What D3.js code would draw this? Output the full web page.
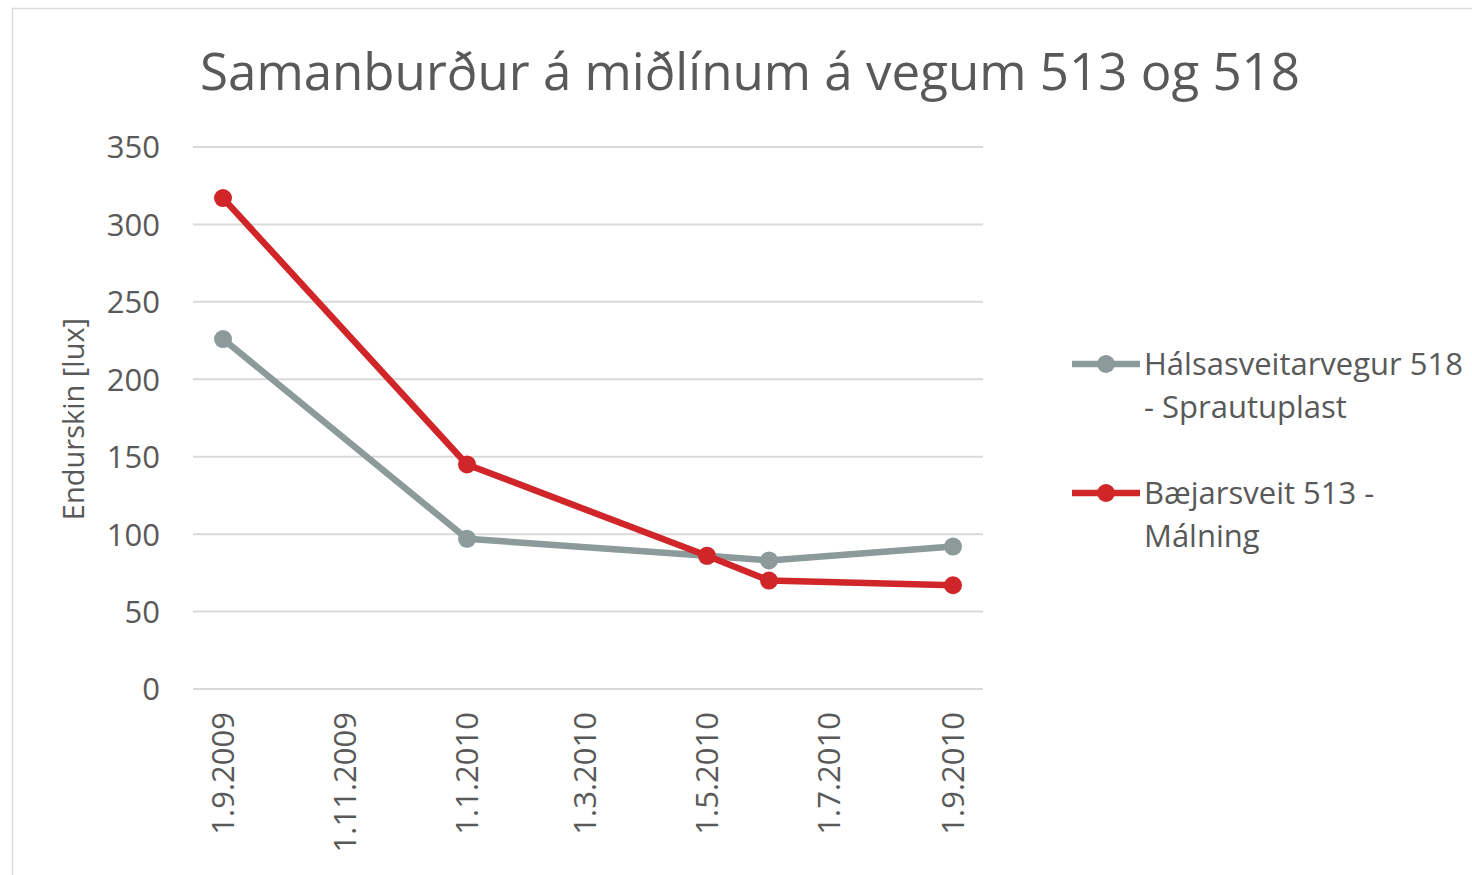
<!DOCTYPE html>
<html><head><meta charset="utf-8">
<script src="https://cdn.jsdelivr.net/npm/d3@7/dist/d3.min.js"></script>
<style>body{margin:0;background:#fff;}svg{display:block;font-family:"Open Sans",sans-serif;}</style>
</head><body>
<svg id="c" width="1472" height="875"></svg>
<script>
const title = "Samanburður á miðlínum á vegum 513 og 518";
const yTitle = "Endurskin [lux]";
const dates = ["2009-09-01","2010-01-01","2010-05-01","2010-06-01","2010-09-01"];
const seriesNames = [["Hálsasveitarvegur 518","- Sprautuplast"],["Bæjarsveit 513 -","Málning"]];
const grayValues = [226, 97, 86, 83, 92];
const redValues = [317, 145, 86, 70, 67];
const seriesColors = ["#8c9a9a", "#d0262a"];
const yTicks = [0,50,100,150,200,250,300,350];
const xTickDates = ["2009-09-01","2009-11-01","2010-01-01","2010-03-01","2010-05-01","2010-07-01","2010-09-01"];

const parse = d3.timeParse("%Y-%m-%d");
const fmt = d => `${d.getDate()}.${d.getMonth()+1}.${d.getFullYear()}`;
const svg = d3.select("#c");
const textColor = "#595959";

svg.append("rect").attr("x",12.5).attr("y",8.5).attr("width",1480).attr("height",880)
  .attr("fill","#fff").attr("stroke","#d9d9d9").attr("stroke-width",1.5);

const x = d3.scaleTime().domain([parse("2009-08-17"), parse("2010-09-16")]).range([193, 983]);
const y = d3.scaleLinear().domain([0,350]).range([689,147]);

// gridlines
svg.append("g").selectAll("line").data(yTicks).join("line")
  .attr("x1",193).attr("x2",983).attr("y1",d=>y(d)).attr("y2",d=>y(d))
  .attr("stroke","#d9d9d9").attr("stroke-width",2);

// y axis labels
const ya = svg.append("g").attr("transform","translate(160,0)")
  .call(d3.axisLeft(y).tickValues(yTicks).tickSize(0).tickPadding(0));
ya.select(".domain").remove();
ya.selectAll("text").attr("fill",textColor).style("font-size","31px").attr("dy","0.35em")
  .style("font-family","'Open Sans',sans-serif");

// x axis labels
const xa = svg.append("g").attr("transform","translate(0,712)")
  .call(d3.axisBottom(x).tickValues(xTickDates.map(parse)).tickFormat(fmt).tickSize(0).tickPadding(0));
xa.select(".domain").remove();
xa.selectAll("text").attr("fill",textColor).style("font-size","31px")
  .style("font-family","'Open Sans',sans-serif")
  .attr("text-anchor","end").attr("transform","rotate(-90)").attr("x",0).attr("y",0).attr("dy","0.35em");

// title
svg.append("text").attr("x",750).attr("y",90).attr("text-anchor","middle")
  .attr("fill",textColor).style("font-size","52px")
  .attr("textLength",1100).attr("lengthAdjust","spacingAndGlyphs").text(title);

// y title
svg.append("text").attr("transform","translate(84,419) rotate(-90)").attr("text-anchor","middle")
  .attr("fill",textColor).style("font-size","29px").text(yTitle);

const series = [grayValues, redValues];
const line = d3.line().x(d=>x(d.date)).y(d=>y(d.v));
series.forEach((vals,i)=>{
  const data = dates.map((d,j)=>({date:parse(d), v:vals[j]}));
  svg.append("path").datum(data).attr("d",line).attr("fill","none")
    .attr("stroke",seriesColors[i]).attr("stroke-width",6.5).attr("stroke-linejoin","round");
  svg.append("g").selectAll("circle").data(data).join("circle")
    .attr("cx",d=>x(d.date)).attr("cy",d=>y(d.v)).attr("r",9).attr("fill",seriesColors[i]);
});

// legend
const legY = [364, 493];
seriesNames.forEach((lines,i)=>{
  const g = svg.append("g");
  g.append("line").attr("x1",1072).attr("x2",1140).attr("y1",legY[i]).attr("y2",legY[i])
    .attr("stroke",seriesColors[i]).attr("stroke-width",6.5);
  g.append("circle").attr("cx",1106).attr("cy",legY[i]).attr("r",9).attr("fill",seriesColors[i]);
  lines.forEach((t,k)=>{
    g.append("text").attr("x",1144).attr("y",legY[i]+11+k*43).attr("fill",textColor)
      .style("font-size","31px").text(t);
  });
});
</script>
</body></html>
